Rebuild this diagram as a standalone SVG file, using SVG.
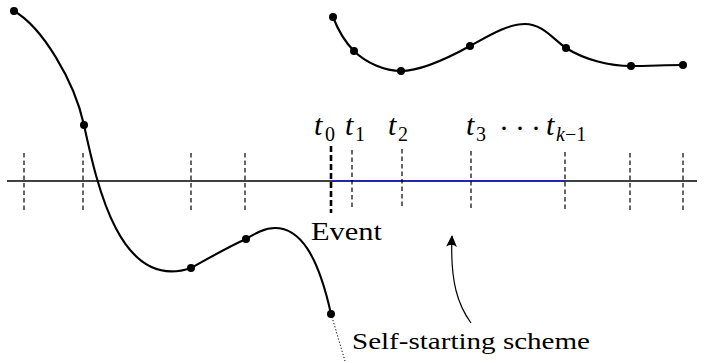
<svg xmlns="http://www.w3.org/2000/svg" width="704" height="363" viewBox="0 0 704 363">
<style>
.curve{fill:none;stroke:#000;stroke-width:2.1}
.tick{stroke:#000;stroke-width:1.2;stroke-dasharray:4.5 3}
.lbl{font-family:"Liberation Serif","Times New Roman",serif;fill:#000}
.it{font-style:italic}
.dot{fill:#000}
</style>
<defs>
<marker id="ah" viewBox="0 0 12 12" refX="10" refY="6" markerWidth="13" markerHeight="13" markerUnits="userSpaceOnUse" orient="auto">
<path d="M0,1 Q4,6 0,11 L11,6 Z" fill="#000"/>
</marker>
</defs>
<rect width="704" height="363" fill="#fff"/>
<g id="axis">
<line x1="7" y1="181" x2="697" y2="181" stroke="#000" stroke-width="1.4"/>
<line x1="331" y1="181" x2="565" y2="181" stroke="#2424b4" stroke-width="1.8"/>
</g>
<g id="ticks">
<line class="tick" x1="24" y1="153" x2="24" y2="212"/>
<line class="tick" x1="83" y1="153" x2="83" y2="212"/>
<line class="tick" x1="191" y1="153" x2="191" y2="212"/>
<line class="tick" x1="245" y1="153" x2="245" y2="212"/>
<line x1="331" y1="146" x2="331" y2="213" stroke="#000" stroke-width="2.6" stroke-dasharray="6 3"/>
<line class="tick" x1="352" y1="150" x2="352" y2="209"/>
<line class="tick" x1="402" y1="149" x2="402" y2="209"/>
<line class="tick" x1="471" y1="151" x2="471" y2="210"/>
<line class="tick" x1="565" y1="152" x2="565" y2="211"/>
<line class="tick" x1="630" y1="153" x2="630" y2="212"/>
<line class="tick" x1="683" y1="153" x2="683" y2="212"/>
</g>
<g id="lower-curve">
<path class="curve" d="M14,11 C42,27 74,80 84,125 C97,185 120,292 191,268 C209,258 228,247 246,239 C256,233 265,228 275,228 C300,228 318,255 331,314"/>
<circle class="dot" cx="14" cy="11" r="4"/>
<circle class="dot" cx="84" cy="125" r="4"/>
<circle class="dot" cx="191" cy="268" r="4"/>
<circle class="dot" cx="246" cy="239" r="4"/>
<circle class="dot" cx="331" cy="314" r="4"/>
</g>
<g id="upper-curve">
<path class="curve" d="M333,17 C338,30 345,42 354,51 C366,63 385,71 401,71 C420,71 450,57 470,46 C490,35 508,24 525,24 C542,24 552,38 566,48 C585,60 610,66 631,66 C650,66 665,65 683,65"/>
<circle class="dot" cx="333" cy="17" r="4"/>
<circle class="dot" cx="354" cy="51" r="4"/>
<circle class="dot" cx="401" cy="71" r="4"/>
<circle class="dot" cx="470" cy="46" r="4"/>
<circle class="dot" cx="566" cy="48" r="4"/>
<circle class="dot" cx="631" cy="66" r="4"/>
<circle class="dot" cx="683" cy="65" r="4"/>
</g>
<g id="connectors">
<line x1="332" y1="317" x2="345" y2="361" stroke="#000" stroke-width="1" stroke-dasharray="1.2 2"/>
<path d="M471,323 C458,305 450,282 452,236" fill="none" stroke="#000" stroke-width="1.2" marker-end="url(#ah)"/>
</g>
<g id="labels">
<text class="lbl it" x="314" y="135" font-size="30">t</text>
<text class="lbl" x="325" y="141" font-size="20">0</text>
<text class="lbl it" x="345" y="135" font-size="30">t</text>
<text class="lbl" x="355" y="141" font-size="20">1</text>
<text class="lbl it" x="388" y="135" font-size="30">t</text>
<text class="lbl" x="398" y="141" font-size="20">2</text>
<text class="lbl it" x="466" y="135" font-size="30">t</text>
<text class="lbl" x="476" y="141" font-size="20">3</text>
<text class="lbl" x="499 515 531" y="138" font-size="30">···</text>
<text class="lbl it" x="546" y="135" font-size="30">t</text>
<text class="lbl" x="556" y="141" font-size="20"><tspan font-style="italic">k</tspan>−1</text>
<text class="lbl" x="311" y="240" font-size="25" textLength="71" lengthAdjust="spacingAndGlyphs">Event</text>
<text class="lbl" x="352" y="349" font-size="24" textLength="238" lengthAdjust="spacingAndGlyphs">Self-starting scheme</text>
</g>
</svg>
